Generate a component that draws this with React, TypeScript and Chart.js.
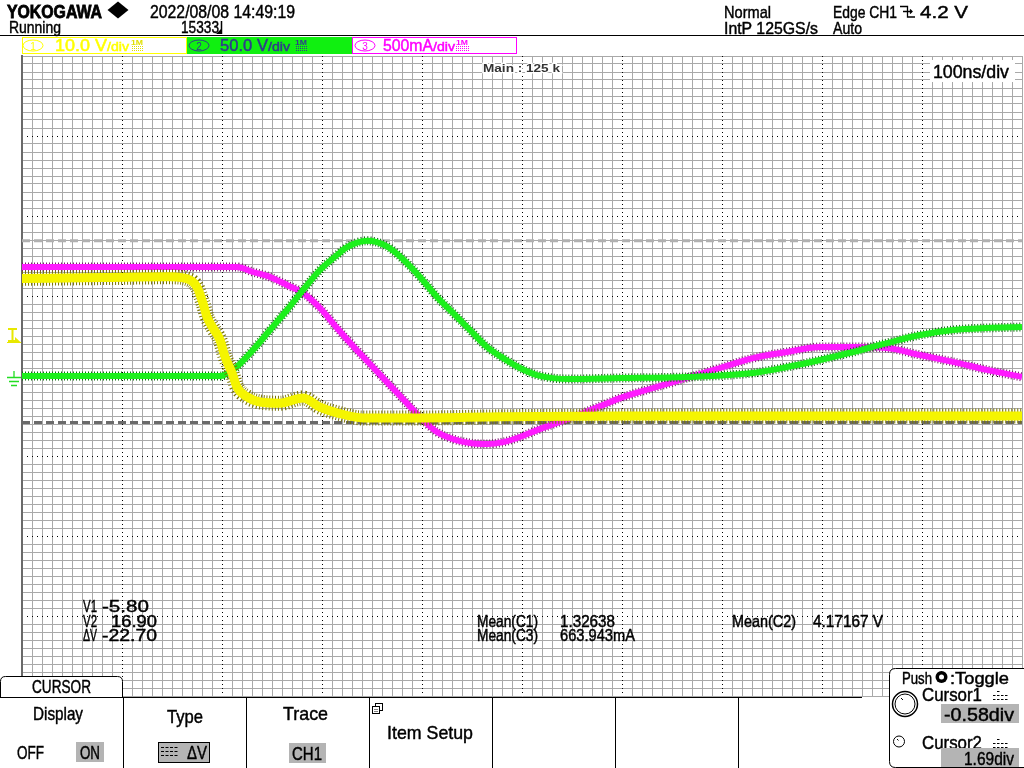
import React, { useEffect, useRef } from "react";
import { Chart, registerables } from "chart.js";

Chart.register(...registerables);

// ---- Screen / scale settings ----
const TIME_SPAN_NS = 1000; // 10 div x 100 ns/div
const Y_DIVS_HALF = 4; // 8 vertical divisions
const CH1_VOLTS_PER_DIV = 10;
const CH2_VOLTS_PER_DIV = 50;
const CH3_MA_PER_DIV = 500;

// grid tick positions
const X_MINOR = Array.from({ length: 101 }, (_, i) => i * 10);
const X_MAJOR = [100, 200, 300, 400, 500, 600, 700, 800, 900];
const Y_MINOR = Array.from({ length: 81 }, (_, i) => (i - 40) / 10);
const Y_MAJOR = [-3, -2, -1, 0, 1, 2, 3];

// ---- CH1 (V) ----
const CH1_T = [0, 80, 148, 168, 175, 181, 185, 191, 198, 203, 210, 215, 225, 238, 258, 281, 298, 315, 341, 398, 478, 598, 800, 1000];
const CH1_V = [12.2, 12.3, 12.4, 12.0, 11.1, 9.1, 7.4, 6.0, 4.5, 2.4, 0.4, -1.4, -2.6, -3.25, -3.4, -2.75, -3.9, -4.6, -5.25, -5.25, -5.1, -5.0, -5.0, -5.0];

// ---- CH2 (V) ----
const CH2_T = [0, 100, 198, 211, 231, 248, 265, 281, 298, 315, 325, 345, 365, 381, 398, 415, 431, 448, 465, 481, 498, 515, 548, 598, 665, 731, 765, 798, 831, 865, 898, 931, 965, 1000];
const CH2_V = [0, 0, 0, 3.75, 16.25, 28.75, 41.25, 53.75, 66.25, 75.6, 80.5, 84.5, 81, 73, 61.9, 49.4, 39.4, 28.75, 18.1, 11.25, 5, 0.6, -1.9, -1.25, -0.6, 1.9, 5.6, 10, 15, 20.6, 25.6, 28.75, 30, 30.6];

// ---- CH3 (mA) ----
const CH3_T = [0, 100, 215, 231, 248, 265, 281, 298, 315, 331, 348, 365, 381, 398, 415, 431, 448, 465, 481, 498, 515, 548, 581, 598, 631, 665, 698, 731, 765, 798, 831, 865, 898, 931, 965, 1000];
const CH3_MA = [681, 681, 681, 650, 619, 569, 519, 425, 300, 188, 75, -38, -144, -256, -350, -394, -419, -425, -413, -381, -338, -263, -181, -138, -75, -12, 50, 112, 150, 181, 181, 175, 131, 88, 38, -6];

// ---- Cursors (CH1, V) ----
const CURSOR_V1 = -5.8;
const CURSOR_V2 = 16.9;

const F = "'Liberation Sans Narrow','Liberation Sans',Arial,sans-serif";

function pts(t: number[], v: number[], perDiv: number) {
  return t.map((tt, i) => ({ x: tt, y: v[i] / perDiv }));
}

function isMajorX(v: number) {
  return v % 100 === 0 && v !== 0 && v !== TIME_SPAN_NS;
}
function isMajorY(v: number) {
  const r = Math.round(v);
  return Math.abs(v - r) < 1e-6 && Math.abs(r) !== Y_DIVS_HALF;
}

function T(p: any) {
  const { x, y, w, s = 17, c = "#000", bold, anchor, children, extra, sw = 0.45 } = p;
  return (
    <text
      x={x}
      y={y}
      fontSize={s}
      fill={c}
      stroke={c}
      strokeWidth={sw}
      fontFamily={F}
      fontWeight={bold ? "bold" : "normal"}
      textLength={w}
      lengthAdjust="spacingAndGlyphs"
      textAnchor={anchor || "start"}
      {...(extra || {})}
    >
      {children}
    </text>
  );
}

export default function App() {
  const ref = useRef<HTMLCanvasElement | null>(null);

  useEffect(() => {
    if (!ref.current) return;
    const common = {
      pointRadius: 0,
      fill: false,
      cubicInterpolationMode: "monotone" as const,
      borderJoinStyle: "round" as const,
      clip: 0,
    };
    const ch1 = pts(CH1_T, CH1_V, CH1_VOLTS_PER_DIV);
    const ch2 = pts(CH2_T, CH2_V, CH2_VOLTS_PER_DIV);
    const ch3 = pts(CH3_T, CH3_MA, CH3_MA_PER_DIV);
    const chart = new Chart(ref.current, {
      type: "line",
      data: {
        datasets: [
          { ...common, label: "CH1", data: ch1, borderColor: "#f5f500", borderWidth: 9, order: 0 },
          { ...common, label: "CH1 noise", data: ch1, borderColor: "#7a7400", borderWidth: 15, borderDash: [1, 2], order: 1 },
          { ...common, label: "CH2", data: ch2, borderColor: "#1cf01c", borderWidth: 6, order: 2 },
          { ...common, label: "CH2 noise", data: ch2, borderColor: "#0f700f", borderWidth: 9, borderDash: [1, 2], order: 3 },
          { ...common, label: "CH3", data: ch3, borderColor: "#ff1aff", borderWidth: 6, order: 4 },
          { ...common, label: "CH3 noise", data: ch3, borderColor: "#7c1a70", borderWidth: 9, borderDash: [1, 2], order: 5 },
          {
            ...common,
            label: "Cursor1",
            data: [
              { x: 0, y: CURSOR_V1 / CH1_VOLTS_PER_DIV },
              { x: TIME_SPAN_NS, y: CURSOR_V1 / CH1_VOLTS_PER_DIV },
            ],
            borderColor: "#6a6a6a",
            borderWidth: 3,
            borderDash: [8, 4],
            order: 6,
          },
          {
            ...common,
            label: "Cursor2",
            data: [
              { x: 0, y: CURSOR_V2 / CH1_VOLTS_PER_DIV },
              { x: TIME_SPAN_NS, y: CURSOR_V2 / CH1_VOLTS_PER_DIV },
            ],
            borderColor: "#b0b0b0",
            borderWidth: 3,
            borderDash: [8, 4],
            order: 7,
          },
        ],
      },
      options: {
        responsive: false,
        animation: false,
        events: [],
        layout: { padding: { left: 22, top: 56, right: 2, bottom: 72 } },
        plugins: { legend: { display: false }, tooltip: { enabled: false }, title: { display: false } },
        scales: {
          x: {
            type: "linear",
            min: 0,
            max: TIME_SPAN_NS,
            position: "bottom",
            afterBuildTicks: (s: any) => {
              s.ticks = X_MINOR.map((v) => ({ value: v }));
            },
            ticks: { display: false },
            grid: {
              drawTicks: false,
              lineWidth: 1,
              color: (c: any) => (c.tick && isMajorX(c.tick.value) ? "rgba(0,0,0,0)" : "#a9a9a9"),
            },
            border: { display: false },
          },
          y: {
            type: "linear",
            min: -Y_DIVS_HALF,
            max: Y_DIVS_HALF,
            position: "left",
            afterBuildTicks: (s: any) => {
              s.ticks = Y_MINOR.map((v) => ({ value: v }));
            },
            ticks: { display: false },
            grid: {
              drawTicks: false,
              lineWidth: 1,
              color: (c: any) => (c.tick && isMajorY(c.tick.value) ? "rgba(0,0,0,0)" : "#a9a9a9"),
            },
            border: { display: true, color: "#6a6a6a", width: 2 },
          },
          x2: {
            type: "linear",
            min: 0,
            max: TIME_SPAN_NS,
            position: "bottom",
            afterBuildTicks: (s: any) => {
              s.ticks = X_MAJOR.map((v) => ({ value: v }));
            },
            ticks: { display: false },
            grid: { drawTicks: false, lineWidth: 1, color: "#000" },
            border: { display: false, dash: [1, 3] },
          },
          y2: {
            type: "linear",
            min: -Y_DIVS_HALF,
            max: Y_DIVS_HALF,
            position: "left",
            afterBuildTicks: (s: any) => {
              s.ticks = Y_MAJOR.map((v) => ({ value: v }));
            },
            ticks: { display: false },
            grid: { drawTicks: false, lineWidth: 1, color: "#000" },
            border: { display: false, dash: [1, 4] },
          },
        },
      } as any,
    });
    return () => chart.destroy();
  }, []);

  const hatch = (x: number, id: string) => <rect x={x} y={46} width={13} height={6} fill={`url(#${id})`} />;

  return (
    <div style={{ position: "fixed", left: 0, top: 0, width: 1024, height: 768, background: "#fff", overflow: "hidden" }}>
      <canvas ref={ref} width={1024} height={768} style={{ position: "absolute", left: 0, top: 0, width: 1024, height: 768 }} />
      <svg width={1024} height={768} style={{ position: "absolute", left: 0, top: 0 }} xmlns="http://www.w3.org/2000/svg">
        <defs>
          <pattern id="hy" width="2" height="2" patternUnits="userSpaceOnUse">
            <rect width="1" height="1" fill="#e0e000" />
          </pattern>
          <pattern id="hg" width="2" height="2" patternUnits="userSpaceOnUse">
            <rect width="1" height="1" fill="#303c8c" />
          </pattern>
          <pattern id="hm" width="2" height="2" patternUnits="userSpaceOnUse">
            <rect width="1" height="1" fill="#ff00ff" />
          </pattern>
        </defs>

        {/* header */}
        <T x={7} y={17.5} s={18} w={95} bold sw={0.8}>YOKOGAWA</T>
        <polygon points="118,1.5 128.5,10 118,18.5 107.5,10" fill="#000" />
        <T x={150} y={18} s={18} w={145}>2022/08/08 14:49:19</T>
        <T x={9} y={33} s={17} w={52}>Running</T>
        <T x={181} y={33} s={17} w={38}>15333</T>
        <line x1={221.5} y1={21} x2={221.5} y2={34} stroke="#000" strokeWidth={1.5} />
        <polygon points="216,34 221,34 221,29" fill="#000" />
        <T x={724} y={17.5} s={17} w={47}>Normal</T>
        <T x={833} y={17.5} s={17} w={64}>Edge CH1</T>
        <path d="M900,6.5 H907.5 V17 H915 M903,11.5 H912 M910,9.5 L912,11.5 L910,13.5" stroke="#000" strokeWidth={1.3} fill="none" />
        <T x={920} y={17.5} s={17} w={48}>4.2 V</T>
        <T x={724} y={33.5} s={17} w={94}>IntP 125GS/s</T>
        <T x={833} y={33.5} s={17} w={29}>Auto</T>
        <line x1={0} y1={35.5} x2={1024} y2={35.5} stroke="#000" strokeWidth={1} />

        {/* channel bars */}
        <rect x={22.5} y={37.5} width={164} height={16} fill="#fff" stroke="#ffff00" />
        <ellipse cx={33} cy={45.5} rx={10} ry={5.5} fill="none" stroke="#ffff00" />
        <T x={33} y={50} s={10} c="#ffff00" anchor="middle" sw={0}>1</T>
        <T x={55} y={51} s={16} w={52} c="#ffff00">10.0 V</T>
        <T x={107} y={51} s={12} w={22} c="#ffff00">/div</T>
        <T x={131} y={44.5} s={7} w={12} c="#e0e000" bold sw={0}>1M</T>
        {hatch(131, "hy")}

        <rect x={187} y={37} width={165} height={17} fill="#10f010" />
        <ellipse cx={199} cy={45.5} rx={10} ry={5.5} fill="none" stroke="#303c8c" />
        <T x={199} y={50} s={10} c="#303c8c" anchor="middle" sw={0}>2</T>
        <T x={220} y={51} s={16} w={48} c="#303c8c">50.0 V</T>
        <T x={268} y={51} s={12} w={22} c="#303c8c">/div</T>
        <T x={295} y={44.5} s={7} w={12} c="#303c8c" bold sw={0}>1M</T>
        {hatch(295, "hg")}

        <rect x={352.5} y={37.5} width={164} height={16} fill="#fff" stroke="#ff00ff" />
        <ellipse cx={365} cy={45.5} rx={10} ry={5.5} fill="none" stroke="#ff00ff" />
        <T x={365} y={50} s={10} c="#ff00ff" anchor="middle" sw={0}>3</T>
        <T x={383} y={51} s={16} w={50} c="#ff00ff">500mA</T>
        <T x={433} y={51} s={12} w={22} c="#ff00ff">/div</T>
        <T x={456} y={44.5} s={7} w={12} c="#ff00ff" bold sw={0}>1M</T>
        {hatch(456, "hm")}

        {/* grid texts */}
        <T x={483} y={72} s={10} w={77} c="#333" bold sw={0} extra={{ stroke: "#fff", strokeWidth: 2.5, paintOrder: "stroke" }}>Main : 125 k</T>
        <rect x={930} y={60} width={85} height={22} fill="#fff" />
        <T x={933} y={78} s={18} w={76}>100ns/div</T>

        <T x={83} y={612} s={17} w={14}>V1</T>
        <T x={102} y={612} s={17} w={47}>-5.80</T>
        <T x={83} y={626.5} s={17} w={14}>V2</T>
        <T x={111} y={626.5} s={17} w={46}>16.90</T>
        <T x={83} y={641} s={17} w={14}>ΔV</T>
        <T x={102} y={641} s={17} w={55}>-22.70</T>

        <T x={477} y={627} s={16} w={61}>Mean(C1)</T>
        <T x={560} y={627} s={16} w={55}>1.32638</T>
        <T x={477} y={641} s={16} w={61}>Mean(C3)</T>
        <T x={560} y={641} s={16} w={75}>663.943mA</T>
        <T x={732} y={627} s={16} w={64}>Mean(C2)</T>
        <T x={813} y={627} s={16} w={70}>4.17167 V</T>

        {/* left markers */}
        <path d="M8,329 H17 M12.5,329 V341 M8,341 H16" stroke="#e8e800" strokeWidth={2} fill="none" />
        <polygon points="15,343 21.5,343 15,337" fill="#e8e800" />
        <line x1={7} y1={342.5} x2={21} y2={342.5} stroke="#e8e800" strokeWidth={1} />
        <path d="M14,371 V377 M7,377.5 H21 M9,381.5 H19 M11,385.5 H17" stroke="#22dd22" strokeWidth={1.3} fill="none" />

        {/* bottom soft-key panel */}
        <rect x={0} y={697} width={889} height={71} fill="#fff" />
        <path d="M0.5,697 V681.5 Q0.5,676.5 5.5,676.5 H117.5 Q122.5,676.5 122.5,681.5 V697" fill="#fff" stroke="#000" />
        <T x={32} y={693} s={19} w={59}>CURSOR</T>
        <line x1={0} y1={697.5} x2={862} y2={697.5} stroke="#000" />
        {[123.5, 246.5, 369.5, 492.5, 615.5, 738.5].map((x) => (
          <line key={x} x1={x} y1={697} x2={x} y2={768} stroke="#000" />
        ))}
        <T x={33} y={720} s={19} w={50}>Display</T>
        <T x={17} y={758.5} s={19} w={27}>OFF</T>
        <rect x={76} y={742} width={28} height={20} fill="#b4b4b4" />
        <T x={80} y={758.5} s={19} w={20}>ON</T>

        <T x={167} y={722.5} s={19} w={36}>Type</T>
        <rect x={158.5} y={742.5} width={51} height={20} fill="#b4b4b4" stroke="#000" />
        <path d="M161,747.5 H178 M161,751.5 H178 M161,755.5 H178" stroke="#000" strokeWidth={1} strokeDasharray="3,1.5" />
        <T x={187} y={759} s={19} w={20}>ΔV</T>

        <T x={283} y={720} s={19} w={45}>Trace</T>
        <rect x={289} y={743} width={37} height={20} fill="#b4b4b4" />
        <T x={292} y={759.5} s={19} w={30}>CH1</T>

        <rect x={375.5} y={703.5} width={7} height={7} fill="#fff" stroke="#000" />
        <rect x={372.5} y={706.5} width={7} height={7} fill="#fff" stroke="#000" />
        <path d="M374.5,709.5 h1 M376.5,709.5 h1 M374.5,711.5 h1 M376.5,711.5 h1" stroke="#000" />
        <T x={387} y={738.5} s={19} w={86}>Item Setup</T>

        {/* right knob box */}
        <path d="M1024,668.5 H895.5 Q889.5,668.5 889.5,674.5 V761.5 Q889.5,767.5 895.5,767.5 H1024" fill="#fff" stroke="#000" />
        <T x={902} y={684} s={17} w={30}>Push</T>
        <circle cx={941.5} cy={677} r={6} fill="#000" />
        <circle cx={941.5} cy={677} r={2.5} fill="#fff" />
        <T x={950} y={684} s={17} w={59}>:Toggle</T>
        <circle cx={905} cy={704} r={12.5} fill="#fff" stroke="#000" strokeWidth={1.5} />
        <circle cx={905} cy={704} r={10} fill="none" stroke="#000" strokeWidth={1} />
        <line x1={901} y1={698} x2={903} y2={700} stroke="#000" />
        <T x={922} y={700.5} s={19} w={60}>Cursor1</T>
        <path d="M997,691.5 H1001 M993,695.5 H1008 M993,699.5 H1008" stroke="#000" strokeDasharray="2.5,1.5" />
        <rect x={941} y={704} width={78} height={19} fill="#b4b4b4" />
        <T x={1014} y={721} s={19} w={70} anchor="end">-0.58div</T>
        <circle cx={899} cy={741.5} r={5.5} fill="#fff" stroke="#000" />
        <line x1={897} y1={739} x2={898.5} y2={740.5} stroke="#000" />
        <T x={922} y={748.5} s={19} w={60}>Cursor2</T>
        <path d="M997,739.5 H1001 M993,743.5 H1008 M993,747.5 H1008" stroke="#000" strokeDasharray="2.5,1.5" />
        <rect x={941} y={748} width={78} height={19} fill="#b4b4b4" />
        <T x={1014} y={765} s={19} w={50} anchor="end">1.69div</T>
      </svg>
    </div>
  );
}
